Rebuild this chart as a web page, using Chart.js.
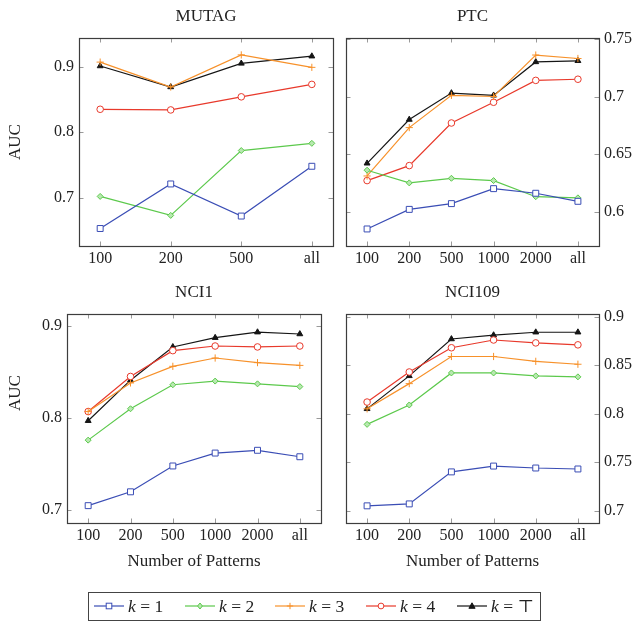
<!DOCTYPE html>
<html><head><meta charset="utf-8">
<script src="https://cdn.jsdelivr.net/npm/chart.js@4.4.1/dist/chart.umd.min.js"></script>
<style>
html,body{margin:0;padding:0;background:#fff;}
#wrap{position:relative;width:636px;height:621px;overflow:hidden;background:#fff;}
#wrap canvas{position:absolute;left:0;top:0;}
#legend{position:absolute;left:88px;top:592px;width:451px;height:27px;border:1px solid #444;font-family:'Liberation Serif','DejaVu Serif',serif;font-size:17.5px;color:#222;}
.lg-s{position:absolute;top:8px;line-height:0;}
.lg-s svg{display:block;}
.lg-t{position:absolute;top:3px;white-space:nowrap;line-height:20px;}
</style>
</head><body>
<div id="wrap">
<canvas id="c1" width="636" height="621"></canvas>
<canvas id="c2" width="636" height="621"></canvas>
<canvas id="c3" width="636" height="621"></canvas>
<canvas id="c4" width="636" height="621"></canvas>
<div id="legend"></div>
</div>
<script>
// ---------------- data ----------------
const seriesLabels = ['k = 1', 'k = 2', 'k = 3', 'k = 4', 'k = \u22A4'];
const mutagX = ['100', '200', '500', 'all'];
const patternX = ['100', '200', '500', '1000', '2000', 'all'];

const mutagK1 = [0.653, 0.721, 0.672, 0.748];
const mutagK2 = [0.702, 0.673, 0.772, 0.783];
const mutagK3 = [0.907, 0.869, 0.918, 0.899];
const mutagK4 = [0.835, 0.834, 0.854, 0.873];
const mutagKT = [0.901, 0.869, 0.905, 0.916];

const ptcK1 = [0.585, 0.602, 0.607, 0.620, 0.616, 0.609];
const ptcK2 = [0.636, 0.625, 0.629, 0.627, 0.613, 0.612];
const ptcK3 = [0.631, 0.673, 0.701, 0.700, 0.736, 0.733];
const ptcK4 = [0.627, 0.640, 0.677, 0.695, 0.714, 0.715];
const ptcKT = [0.642, 0.680, 0.703, 0.701, 0.730, 0.731];

const nci1K1 = [0.705, 0.720, 0.748, 0.762, 0.765, 0.758];
const nci1K2 = [0.776, 0.810, 0.836, 0.840, 0.837, 0.834];
const nci1K3 = [0.807, 0.838, 0.856, 0.865, 0.860, 0.857];
const nci1K4 = [0.807, 0.845, 0.873, 0.878, 0.877, 0.878];
const nci1KT = [0.797, 0.841, 0.877, 0.887, 0.893, 0.891];

const nci109K1 = [0.705, 0.707, 0.740, 0.746, 0.744, 0.743];
const nci109K2 = [0.789, 0.809, 0.842, 0.842, 0.839, 0.838];
const nci109K3 = [0.805, 0.831, 0.859, 0.859, 0.854, 0.851];
const nci109K4 = [0.812, 0.843, 0.868, 0.876, 0.873, 0.871];
const nci109KT = [0.805, 0.839, 0.877, 0.881, 0.884, 0.884];

const mutagYTicks = [0.7, 0.8, 0.9];
const ptcYTicks = [0.6, 0.65, 0.7, 0.75];
const nci1YTicks = [0.7, 0.8, 0.9];
const nci109YTicks = [0.7, 0.75, 0.8, 0.85, 0.9];

// ---------------- styles ----------------
const W = 636, H = 621;
const FONT = "'Liberation Serif', 'DejaVu Serif', serif";
const colors = ['#3a4db5', '#5cc94c', '#f7912a', '#e8392b', '#151515'];
const pStyles = ['rect', 'rectRot', 'cross', 'circle', 'triangle'];
const pRadius = [4.2, 3, 3.6, 3.3, 3.4];
const pFill = ['#ffffff', '#b8e8b0', '#f7912a', '#ffffff', '#151515'];

Chart.defaults.font.family = FONT;
Chart.defaults.color = '#222';

const framePlugin = {
  id: 'frame',
  afterDatasetsDraw(chart) {
    const {ctx, chartArea: a, scales} = chart;
    const tl = 4.5;
    ctx.save();
    ctx.strokeStyle = '#9a9a9a';
    ctx.lineWidth = 1;
    ctx.beginPath();
    scales.x.ticks.forEach(t => {
      const px = Math.round(scales.x.getPixelForValue(t.value)) + 0.5;
      ctx.moveTo(px, a.bottom); ctx.lineTo(px, a.bottom - tl);
      ctx.moveTo(px, a.top); ctx.lineTo(px, a.top + tl);
    });
    scales.y.ticks.forEach(t => {
      const py = Math.round(scales.y.getPixelForValue(t.value)) + 0.5;
      ctx.moveTo(a.left, py); ctx.lineTo(a.left + tl, py);
      ctx.moveTo(a.right, py); ctx.lineTo(a.right - tl, py);
    });
    ctx.stroke();
    ctx.strokeStyle = '#3d3d3d';
    ctx.lineWidth = 1.2;
    ctx.strokeRect(Math.round(a.left) + 0.5, Math.round(a.top) + 0.5,
      Math.round(a.right - a.left), Math.round(a.bottom - a.top));
    ctx.restore();
  }
};

function makeChart(id, cfg) {
  const a = cfg.area;
  const xH = cfg.xTitle ? (H - a.b) : 40;
  const datasets = cfg.series.map((vals, i) => ({
    label: seriesLabels[i],
    data: vals.map((v, j) => ({x: j, y: v})),
    borderColor: colors[i],
    backgroundColor: pFill[i],
    pointBorderColor: colors[i],
    pointBackgroundColor: pFill[i],
    pointStyle: pStyles[i],
    pointRadius: pRadius[i],
    pointBorderWidth: 1,
    borderWidth: 1.2,
    tension: 0,
    fill: false
  }));
  const left = cfg.yPos === 'left';
  return new Chart(document.getElementById(id), {
    type: 'line',
    data: {datasets},
    plugins: [framePlugin],
    options: {
      responsive: false,
      animation: false,
      devicePixelRatio: 1,
      events: [],
      layout: {padding: {
        left: left ? 0 : a.l,
        right: left ? W - a.r : 0,
        top: a.t - 38,
        bottom: H - a.b - xH
      }},
      plugins: {legend: {display: false}, tooltip: {enabled: false}},
      scales: {
        x: {
          type: 'linear', position: 'bottom',
          min: cfg.xMin, max: cfg.xMax,
          grid: {display: false, drawTicks: false},
          border: {display: false},
          afterBuildTicks: s => { s.ticks = cfg.xLabels.map((_, j) => ({value: j})); },
          ticks: {
            font: {size: 16}, padding: 3, maxRotation: 0, autoSkip: false,
            callback: v => cfg.xLabels[v]
          },
          title: {
            display: !!cfg.xTitle, text: cfg.xTitle || '',
            font: {size: 17}, padding: {top: 0, bottom: 49}
          },
          afterFit: s => { s.height = xH; }
        },
        xTop: {
          type: 'linear', position: 'top',
          min: cfg.xMin, max: cfg.xMax,
          grid: {display: false, drawTicks: false},
          border: {display: false},
          ticks: {display: false},
          title: {display: true, text: cfg.title, font: {size: 17}, padding: {top: 6, bottom: 0}},
          afterFit: s => { s.height = 38; }
        },
        y: {
          type: 'linear', position: cfg.yPos,
          min: cfg.yMin, max: cfg.yMax,
          grid: {display: false, drawTicks: false},
          border: {display: false},
          afterBuildTicks: s => { s.ticks = cfg.yTicks.map(v => ({value: v})); },
          ticks: {font: {size: 16}, padding: 5, callback: v => String(v)},
          title: {
            display: !!cfg.yTitle, text: cfg.yTitle || '',
            font: {size: 17}, padding: {top: 5, bottom: 0}
          },
          afterFit: s => { s.width = left ? a.l : W - a.r; }
        }
      }
    }
  });
}

makeChart('c1', {
  title: 'MUTAG', xLabels: mutagX,
  series: [mutagK1, mutagK2, mutagK3, mutagK4, mutagKT],
  yTicks: mutagYTicks, yMin: 0.6263, yMax: 0.9438, xMin: -0.3, xMax: 3.3,
  yPos: 'left', yTitle: 'AUC', xTitle: null,
  area: {l: 79, r: 333, t: 38, b: 246}
});
makeChart('c2', {
  title: 'PTC', xLabels: patternX,
  series: [ptcK1, ptcK2, ptcK3, ptcK4, ptcKT],
  yTicks: ptcYTicks, yMin: 0.5702, yMax: 0.7508, xMin: -0.5, xMax: 5.5,
  yPos: 'right', yTitle: null, xTitle: null,
  area: {l: 346, r: 599, t: 38, b: 246}
});
makeChart('c3', {
  title: 'NCI1', xLabels: patternX,
  series: [nci1K1, nci1K2, nci1K3, nci1K4, nci1KT],
  yTicks: nci1YTicks, yMin: 0.6862, yMax: 0.9127, xMin: -0.5, xMax: 5.5,
  yPos: 'left', yTitle: '\u2002\u2002\u2002\u2002\u2002\u2002AUC', xTitle: 'Number of Patterns',
  area: {l: 67, r: 321, t: 314, b: 523}
});
makeChart('c4', {
  title: 'NCI109', xLabels: patternX,
  series: [nci109K1, nci109K2, nci109K3, nci109K4, nci109KT],
  yTicks: nci109YTicks, yMin: 0.6873, yMax: 0.9028, xMin: -0.5, xMax: 5.5,
  yPos: 'right', yTitle: null, xTitle: 'Number of Patterns',
  area: {l: 346, r: 599, t: 314, b: 523}
});

// ---------------- legend (HTML) ----------------
const legendSampleLeft = [5, 96, 186, 277, 368];
const legend = document.getElementById('legend');
seriesLabels.forEach((lab, i) => {
  const c = colors[i];
  let mark = '';
  const cx = 15, cy = 5;
  if (pStyles[i] === 'rect') mark = `<rect x="${cx-2.8}" y="${cy-2.8}" width="5.6" height="5.6" fill="#fff" stroke="${c}" stroke-width="1"/>`;
  if (pStyles[i] === 'rectRot') mark = `<polygon points="${cx},${cy-3} ${cx+2.4},${cy} ${cx},${cy+3} ${cx-2.4},${cy}" fill="${pFill[i]}" stroke="${c}" stroke-width="1"/>`;
  if (pStyles[i] === 'cross') mark = `<path d="M${cx-3.2} ${cy}H${cx+3.2}M${cx} ${cy-3.2}V${cy+3.2}" stroke="${c}" stroke-width="1"/>`;
  if (pStyles[i] === 'circle') mark = `<circle cx="${cx}" cy="${cy}" r="2.9" fill="#fff" stroke="${c}" stroke-width="1"/>`;
  if (pStyles[i] === 'triangle') mark = `<polygon points="${cx},${cy-3.2} ${cx+3.1},${cy+2.3} ${cx-3.1},${cy+2.3}" fill="${c}" stroke="${c}" stroke-width="1"/>`;
  const s = document.createElement('div');
  s.className = 'lg-s';
  s.style.left = legendSampleLeft[i] + 'px';
  s.innerHTML = `<svg width="30" height="10" viewBox="0 0 30 10"><line x1="0" y1="${cy}" x2="30" y2="${cy}" stroke="${c}" stroke-width="1.2"/>${mark}</svg>`;
  legend.appendChild(s);
  const t = document.createElement('div');
  t.className = 'lg-t';
  t.style.left = (legendSampleLeft[i] + 34) + 'px';
  const parts = lab.split(' = ');
  t.innerHTML = `<i>${parts[0]}</i>&nbsp;=&nbsp;${parts[1]}`;
  legend.appendChild(t);
});
</script>
</body></html>
